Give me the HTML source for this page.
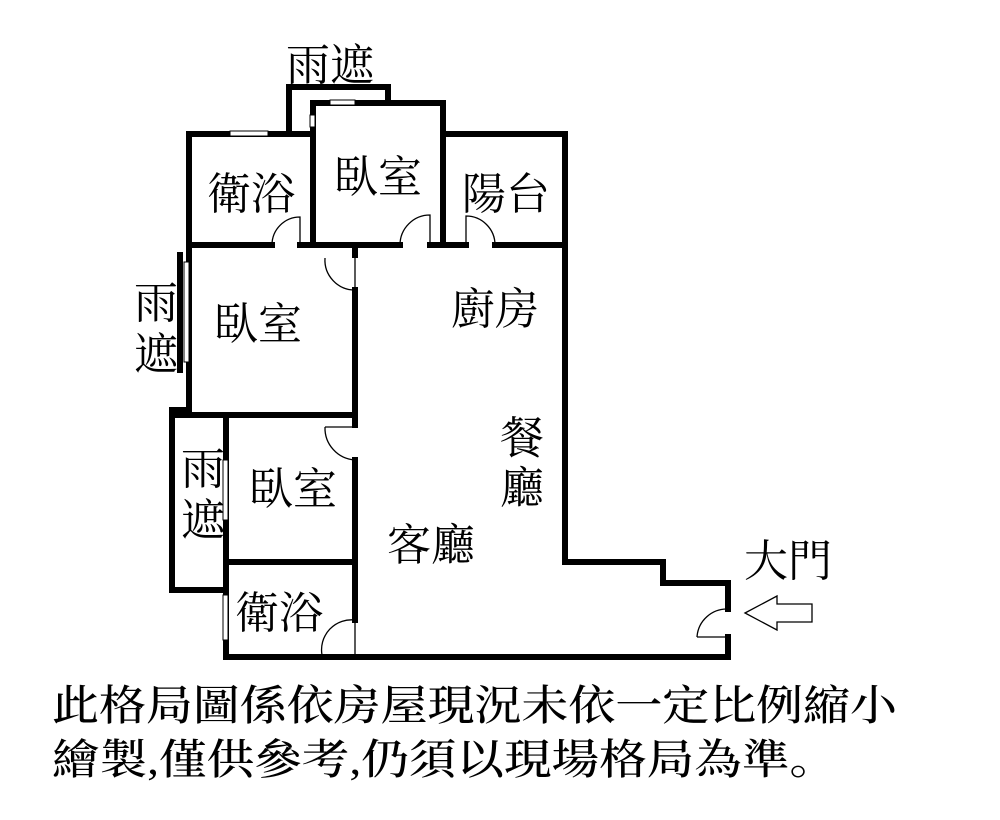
<!DOCTYPE html>
<html><head><meta charset="utf-8"><style>
html,body{margin:0;padding:0;background:#fff;}
svg{display:block;}
text{font-family:"Liberation Serif","Noto Serif CJK SC","Noto Sans CJK TC",serif;fill:#000;}
</style></head><body>
<svg width="1000" height="820" viewBox="0 0 1000 820" xmlns="http://www.w3.org/2000/svg">
<g stroke="#000" stroke-width="6" fill="none" stroke-linecap="square">
<polyline points="289,132 289,87 388,87 388,102"/>
<polyline points="313,245 313,103 443,103 443,245"/>
<polyline points="189,245 189,134 313,134"/>
<polyline points="443,134 565,134 565,562 663,562 663,583 728,583 728,609"/>
<line x1="189" y1="245" x2="272" y2="245"/>
<line x1="300" y1="245" x2="400" y2="245"/>
<line x1="430" y1="245" x2="466" y2="245"/>
<line x1="495" y1="245" x2="565" y2="245"/>
<line x1="189" y1="245" x2="189" y2="415"/>
<line x1="180" y1="255" x2="180" y2="370"/>
<line x1="175" y1="415" x2="355" y2="415"/>
<line x1="355" y1="245" x2="355" y2="255"/>
<line x1="355" y1="290" x2="355" y2="425"/>
<polyline points="189,410 172,410 172,590 226,590"/>
<line x1="226" y1="417" x2="226" y2="657"/>
<line x1="355" y1="460" x2="355" y2="620"/>
<line x1="226" y1="562" x2="355" y2="562"/>
<polyline points="226,657 728,657 728,637"/>
</g>
<g fill="#fff" stroke="#000" stroke-width="1">
<rect x="230" y="131" width="38" height="5"/>
<rect x="330" y="100" width="25" height="5"/>
<rect x="310" y="115" width="5" height="12"/>
<rect x="184" y="262" width="5" height="100"/>
<rect x="223" y="460" width="5" height="60"/>
<rect x="223" y="595" width="5" height="45"/>
</g>
<g stroke="#000" stroke-width="1.3" fill="none">
<path d="M272,245 A28,28 0 0 1 300,217 L300,245"/>
<path d="M400,245 A30,30 0 0 1 430,215 L430,245"/>
<path d="M466,245 L466,216 A29,29 0 0 1 495,245"/>
<path d="M325,258 A30,30 0 0 0 355,290 L355,258"/>
<path d="M325,427 L355,427 M325,427 A32,32 0 0 0 355,460"/>
<path d="M322,655 A30,30 0 0 1 355,620 L355,655"/>
<path d="M697,637 A30,30 0 0 1 728,609 M697,637 L728,637"/>
</g>
<polygon points="745,613 777,596 777,604 812,604 812,622 777,622 777,630" fill="#fff" stroke="#000" stroke-width="1.3"/>
<g font-size="44">
<text x="286" y="80">雨遮</text>
<text x="207" y="209">衛浴</text>
<text x="334" y="192">臥室</text>
<text x="462" y="209">陽台</text>
<text x="134" y="318">雨</text>
<text x="134" y="369">遮</text>
<text x="214" y="339">臥室</text>
<text x="451" y="324">廚房</text>
<text x="500" y="453">餐</text>
<text x="500" y="503">廳</text>
<text x="181" y="484">雨</text>
<text x="181" y="535">遮</text>
<text x="249" y="504">臥室</text>
<text x="387" y="560">客廳</text>
<text x="235" y="628">衛浴</text>
<text x="744" y="576">大門</text>
</g>
<g font-size="42" style="font-family:'Liberation Sans','Noto Sans CJK TC',sans-serif" font-weight="500">
<text x="52" y="720" textLength="845" lengthAdjust="spacingAndGlyphs">此格局圖係依房屋現況未依一定比例縮小</text>
<text x="52" y="774" textLength="785" lengthAdjust="spacingAndGlyphs">繪製,僅供參考,仍須以現場格局為準。</text>
</g>
</svg>
</body></html>
